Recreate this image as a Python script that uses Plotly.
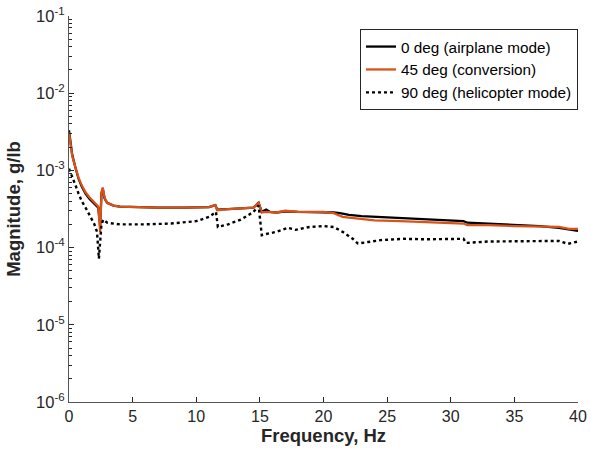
import plotly.graph_objects as go

# Frequency response magnitude for three nacelle angles
freq_0 = [0, 0.1, 0.25, 0.5, 0.75, 1.0, 1.3, 1.6, 2.0, 2.3, 2.45, 2.55, 2.65, 2.8, 3.0, 3.5, 4.0,
          5, 7, 9, 11, 11.5, 11.65, 12.5, 13.5, 14.5, 14.9, 15.15, 15.5, 15.8, 16.3, 17, 18, 19, 20,
          20.8, 21.3, 22, 23, 24, 25, 26, 28, 30, 31, 31.3, 33, 35, 37, 38.5, 40]
mag_0 = [3.3e-3, 2.4e-3, 1.6e-3, 1.1e-3, 7.8e-4, 6.2e-4, 5.0e-4, 4.3e-4, 3.7e-4, 3.3e-4, 1.9e-4,
         5.0e-4, 5.8e-4, 4.3e-4, 3.8e-4, 3.5e-4, 3.4e-4,
         3.35e-4, 3.3e-4, 3.3e-4, 3.35e-4, 3.55e-4, 3.1e-4, 3.15e-4, 3.2e-4, 3.3e-4, 3.8e-4, 2.9e-4,
         3.1e-4, 2.9e-4, 2.85e-4, 2.95e-4, 2.9e-4, 2.9e-4, 2.9e-4,
         2.85e-4, 2.8e-4, 2.65e-4, 2.55e-4, 2.5e-4, 2.45e-4, 2.4e-4, 2.35e-4, 2.25e-4, 2.2e-4, 2.1e-4,
         2.05e-4, 1.95e-4, 1.9e-4, 1.8e-4, 1.65e-4]

freq_45 = [0, 0.1, 0.25, 0.5, 0.75, 1.0, 1.3, 1.6, 2.0, 2.3, 2.45, 2.55, 2.65, 2.8, 3.0, 3.5, 4.0,
           5, 7, 9, 11, 11.5, 11.65, 12.5, 13.5, 14.5, 14.9, 15.15, 15.5, 16.3, 17, 18, 19, 20,
           20.8, 21.5, 22, 23, 24, 26, 28, 30, 31, 31.3, 33, 35, 37, 38.5, 39.3, 40]
mag_45 = [3.1e-3, 2.3e-3, 1.55e-3, 1.1e-3, 8.0e-4, 6.4e-4, 5.2e-4, 4.5e-4, 3.9e-4, 3.4e-4, 1.6e-4,
          5.2e-4, 6.0e-4, 4.4e-4, 3.8e-4, 3.5e-4, 3.4e-4,
          3.35e-4, 3.3e-4, 3.3e-4, 3.35e-4, 3.55e-4, 3.05e-4, 3.15e-4, 3.2e-4, 3.3e-4, 3.8e-4, 2.85e-4,
          2.9e-4, 2.85e-4, 3.0e-4, 2.9e-4, 2.9e-4, 2.9e-4,
          2.8e-4, 2.5e-4, 2.45e-4, 2.35e-4, 2.25e-4, 2.2e-4, 2.15e-4, 2.1e-4, 2.05e-4, 1.95e-4,
          1.95e-4, 1.9e-4, 1.88e-4, 1.85e-4, 1.75e-4, 1.75e-4]

freq_90 = [0, 0.25, 0.5, 0.75, 1.0, 1.3, 1.6, 2.0, 2.2, 2.35, 2.45, 2.55, 2.7, 3.0, 4, 6, 8, 10,
           11, 11.55, 11.7, 12.5, 13.5, 14.5, 14.9, 15.15, 15.5, 16.3, 17.2, 17.8, 18.9, 20, 20.8,
           21.5, 22.3, 22.7, 23.5, 24.5, 26.3, 28, 31, 31.2, 33, 36, 38.5, 39.2, 40]
mag_90 = [1.05e-3, 8.0e-4, 6.5e-4, 5.0e-4, 4.0e-4, 3.3e-4, 2.7e-4, 2.0e-4, 1.6e-4, 7.2e-5, 1.2e-4,
          2.0e-4, 2.3e-4, 2.1e-4, 2.0e-4, 2.0e-4, 2.05e-4, 2.2e-4,
          2.5e-4, 2.9e-4, 1.85e-4, 2.0e-4, 2.3e-4, 2.9e-4, 3.5e-4, 1.45e-4, 1.5e-4, 1.6e-4, 1.8e-4,
          1.7e-4, 1.85e-4, 1.9e-4, 1.85e-4,
          1.6e-4, 1.3e-4, 1.13e-4, 1.18e-4, 1.25e-4, 1.3e-4, 1.28e-4, 1.3e-4, 1.15e-4, 1.2e-4,
          1.22e-4, 1.22e-4, 1.12e-4, 1.2e-4]

series_names = ["0 deg (airplane mode)", "45 deg (conversion)", "90 deg (helicopter mode)"]

x_ticks = [0, 5, 10, 15, 20, 25, 30, 35, 40]
y_ticks = [1e-6, 1e-5, 1e-4, 1e-3, 1e-2, 1e-1]
y_tick_text = ["10<sup>-6</sup>", "10<sup>-5</sup>", "10<sup>-4</sup>",
               "10<sup>-3</sup>", "10<sup>-2</sup>", "10<sup>-1</sup>"]

fig = go.Figure()
fig.add_trace(go.Scatter(x=freq_0, y=mag_0, mode="lines", name=series_names[0],
                         line=dict(color="#000000", width=2.3)))
fig.add_trace(go.Scatter(x=freq_45, y=mag_45, mode="lines", name=series_names[1],
                         line=dict(color="#D95319", width=2.3)))
fig.add_trace(go.Scatter(x=freq_90, y=mag_90, mode="lines", name=series_names[2],
                         line=dict(color="#000000", width=2.4, dash="dot")))

font_family = "Liberation Sans, Arial, Helvetica, sans-serif"

fig.update_layout(
    width=591, height=452,
    margin=dict(l=69, r=13, t=16, b=50),
    paper_bgcolor="white", plot_bgcolor="white",
    font=dict(family=font_family, size=15.5, color="#262626"),
    showlegend=True,
    legend=dict(x=1.0, y=0.966, xanchor="right", yanchor="top",
                bgcolor="white", bordercolor="#262626", borderwidth=1,
                font=dict(size=15.3, color="#000000"),
                tracegroupgap=0, itemwidth=30),
)

fig.update_xaxes(
    range=[0, 40], tickvals=x_ticks, ticks="inside", ticklen=5, tickcolor="#262626",
    tickfont=dict(size=16),
    showline=True, linecolor="#555555", linewidth=1, showgrid=False, zeroline=False,
    automargin=False,
    title=dict(text="<b>Frequency, Hz</b>", font=dict(size=18.5, color="#262626"), standoff=1),
)
fig.update_yaxes(
    type="log", range=[-6, -1], tickvals=y_ticks, ticktext=y_tick_text,
    ticks="inside", ticklen=5, tickcolor="#262626",
    tickfont=dict(size=16.5),
    minor=dict(ticks="inside", ticklen=3, dtick="D1", tickcolor="#262626", showgrid=False),
    showline=True, linecolor="#555555", linewidth=1, showgrid=False, zeroline=False,
    automargin=False,
    title=dict(text="<b>Magnitude, g/lb</b>", font=dict(size=18.5, color="#262626"), standoff=10),
)

fig.write_html("out.html")
